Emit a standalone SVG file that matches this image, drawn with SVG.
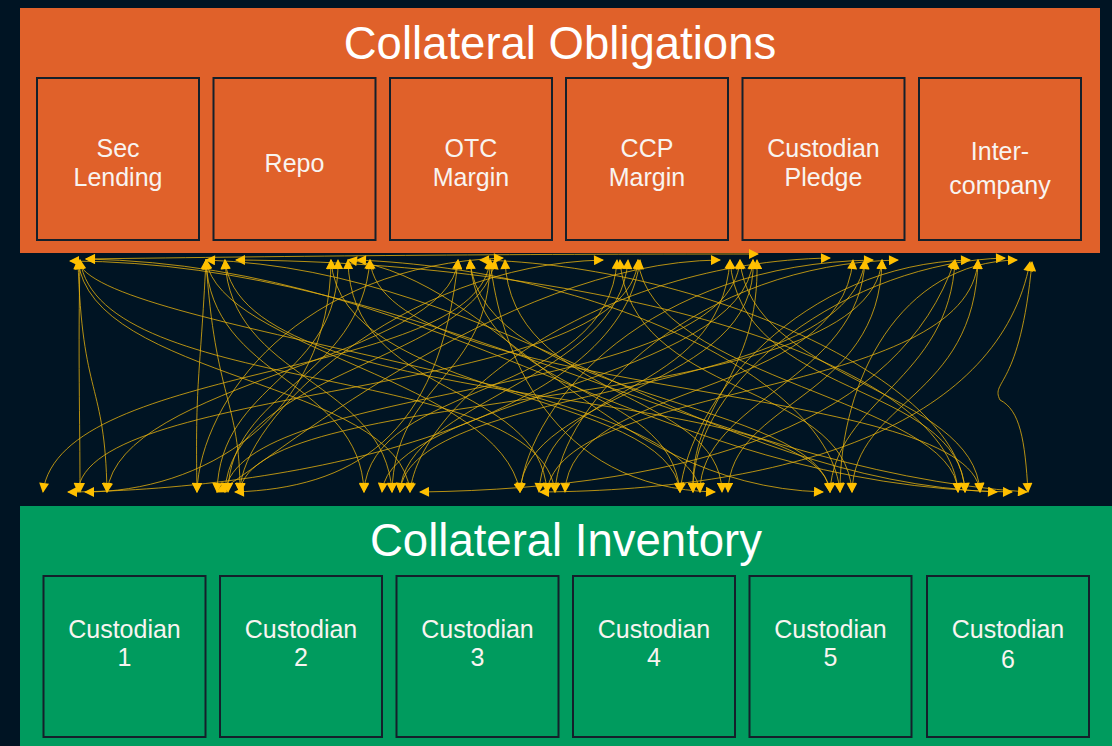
<svg xmlns="http://www.w3.org/2000/svg" width="1112" height="746" viewBox="0 0 1112 746">
<style>
.bg{fill:#001423}
.panelO{fill:#E0612A}
.panelG{fill:#009B5E}
.box{stroke:#14202B;stroke-width:2}
.boxO{fill:#E0612A}
.boxG{fill:#009B5E}
.title{font-family:"Liberation Sans",Arial,sans-serif;fill:#FFFFFF;text-anchor:middle}
.lbl{font-family:"Liberation Sans",Arial,sans-serif;font-size:25px;fill:#F8F4F0;text-anchor:middle}
.c{fill:none;stroke:#E8B30F;stroke-opacity:0.78;stroke-width:1;marker-start:url(#ah);marker-end:url(#ah)}
</style>
<defs>
<marker id="ah" viewBox="0 0 10 10" refX="9" refY="5" markerWidth="11" markerHeight="10" markerUnits="userSpaceOnUse" orient="auto-start-reverse">
<path d="M0,0 L10,5 L0,10 z" fill="#FFC000"/>
</marker>
</defs>
<rect class="bg" x="0" y="0" width="1112" height="746"/>
<g id="obligations">
<rect class="panelO" x="20" y="8" width="1080" height="245"/>
<text class="title" x="560" y="59" font-size="45.5">Collateral Obligations</text>
</g>
<g id="sec-lending"><rect class="box boxO" x="37" y="78" width="162" height="162"/><text class="lbl" x="118" y="157">Sec</text><text class="lbl" x="118" y="186">Lending</text></g>
<g id="repo"><rect class="box boxO" x="213.5" y="78" width="162" height="162"/><text class="lbl" x="294.5" y="172">Repo</text></g>
<g id="otc-margin"><rect class="box boxO" x="390" y="78" width="162" height="162"/><text class="lbl" x="471" y="157">OTC</text><text class="lbl" x="471" y="186">Margin</text></g>
<g id="ccp-margin"><rect class="box boxO" x="566" y="78" width="162" height="162"/><text class="lbl" x="647" y="157">CCP</text><text class="lbl" x="647" y="186">Margin</text></g>
<g id="custodian-pledge"><rect class="box boxO" x="742.5" y="78" width="162" height="162"/><text class="lbl" x="823.5" y="157">Custodian</text><text class="lbl" x="823.5" y="186">Pledge</text></g>
<g id="inter-company"><rect class="box boxO" x="919" y="78" width="162" height="162"/><text class="lbl" x="1000" y="160">Inter-</text><text class="lbl" x="1000" y="194">company</text></g>

<g id="inventory">
<rect class="panelG" x="20" y="506" width="1092" height="240"/>
<text class="title" x="566" y="556" font-size="45.5">Collateral Inventory</text>
</g>
<g id="custodian-1"><rect class="box boxG" x="43.5" y="576" width="162" height="161"/><text class="lbl" x="124.5" y="638">Custodian</text><text class="lbl" x="124.5" y="666">1</text></g>
<g id="custodian-2"><rect class="box boxG" x="220" y="576" width="162" height="161"/><text class="lbl" x="301" y="638">Custodian</text><text class="lbl" x="301" y="666">2</text></g>
<g id="custodian-3"><rect class="box boxG" x="396.5" y="576" width="162" height="161"/><text class="lbl" x="477.5" y="638">Custodian</text><text class="lbl" x="477.5" y="666">3</text></g>
<g id="custodian-4"><rect class="box boxG" x="573" y="576" width="162" height="161"/><text class="lbl" x="654" y="638">Custodian</text><text class="lbl" x="654" y="666">4</text></g>
<g id="custodian-5"><rect class="box boxG" x="749.5" y="576" width="162" height="161"/><text class="lbl" x="830.5" y="638">Custodian</text><text class="lbl" x="830.5" y="666">5</text></g>
<g id="custodian-6"><rect class="box boxG" x="927" y="576" width="162" height="161"/><text class="lbl" x="1008" y="638">Custodian</text><text class="lbl" x="1008" y="668">6</text></g>

<g id="connectors">
<path class="c" d="M 490 260 C 480 380, 60 360, 43 492"/>
<path class="c" d="M 78 260 C 82 400, 105 380, 107 492"/>
<path class="c" d="M 80 260 C 78 350, 80 420, 80 492"/>
<path class="c" d="M 70 261 C 420 262, 700 470, 1027 492"/>
<path class="c" d="M 86 259 C 450 266, 650 488, 1012 492"/>
<path class="c" d="M 78 260 C 90 380, 400 380, 410 492"/>
<path class="c" d="M 80 260 C 100 400, 540 360, 555 492"/>
<path class="c" d="M 640 260 C 620 420, 300 490, 68 492"/>
<path class="c" d="M 206 260 C 200 380, 195 380, 197 492"/>
<path class="c" d="M 206 260 C 215 400, 240 400, 240 492"/>
<path class="c" d="M 206 260 C 220 350, 500 380, 520 492"/>
<path class="c" d="M 225 260 C 240 420, 820 380, 830 492"/>
<path class="c" d="M 236 260 C 600 262, 950 360, 958 492"/>
<path class="c" d="M 331 260 C 330 420, 200 492, 85 492"/>
<path class="c" d="M 338 260 C 340 380, 220 380, 217 492"/>
<path class="c" d="M 348 260 C 350 400, 540 380, 547 492"/>
<path class="c" d="M 357 260 C 600 270, 830 380, 840 492"/>
<path class="c" d="M 370 260 C 360 380, 230 390, 228 492"/>
<path class="c" d="M 458 260 C 440 440, 350 488, 235 492"/>
<path class="c" d="M 470 260 C 480 400, 670 380, 680 492"/>
<path class="c" d="M 480 260 C 700 265, 960 380, 965 492"/>
<path class="c" d="M 490 260 C 490 380, 395 380, 392 492"/>
<path class="c" d="M 495 260 C 480 360, 230 370, 225 492"/>
<path class="c" d="M 505 260 C 510 400, 720 390, 722 492"/>
<path class="c" d="M 503 258 C 300 265, 200 400, 197 492"/>
<path class="c" d="M 603 260 C 400 265, 240 420, 240 492"/>
<path class="c" d="M 617 260 C 610 400, 370 380, 364 492"/>
<path class="c" d="M 620 260 C 630 400, 845 380, 852 492"/>
<path class="c" d="M 628 260 C 620 380, 405 400, 400 492"/>
<path class="c" d="M 638 260 C 650 380, 955 400, 958 492"/>
<path class="c" d="M 720 260 C 500 262, 260 470, 217 492"/>
<path class="c" d="M 730 260 C 720 400, 545 380, 539 492"/>
<path class="c" d="M 740 260 C 750 380, 975 390, 980 492"/>
<path class="c" d="M 753 260 C 745 380, 390 400, 382 492"/>
<path class="c" d="M 757 260 C 760 380, 690 400, 693 492"/>
<path class="c" d="M 86 259 C 300 256, 500 254, 758 254"/>
<path class="c" d="M 830 258 C 600 262, 420 400, 410 492"/>
<path class="c" d="M 853 260 C 840 400, 570 380, 565 492"/>
<path class="c" d="M 865 260 C 860 380, 700 400, 700 492"/>
<path class="c" d="M 873 260 C 650 264, 530 400, 520 492"/>
<path class="c" d="M 882 260 C 880 400, 730 400, 728 492"/>
<path class="c" d="M 898 260 C 700 264, 560 400, 555 492"/>
<path class="c" d="M 955 260 C 950 380, 835 400, 830 492"/>
<path class="c" d="M 970 260 C 800 264, 690 400, 680 492"/>
<path class="c" d="M 978 260 C 975 400, 855 400, 852 492"/>
<path class="c" d="M 1005 258 C 850 262, 690 380, 693 492"/>
<path class="c" d="M 1017 260 C 900 262, 840 380, 840 492"/>
<path class="c" d="M 1032 262 C 1020 390, 990 380, 1000 400 C 1020 410, 1025 440, 1028 492"/>
<path class="c" d="M 206 260 C 500 270, 700 480, 997 492"/>
<path class="c" d="M 348 260 C 500 280, 600 485, 823 492"/>
<path class="c" d="M 490 260 C 500 350, 550 488, 715 492"/>
<path class="c" d="M 955 260 C 900 420, 700 488, 420 492"/>
<path class="c" d="M 1030 262 C 1000 420, 800 490, 540 492"/>
<path class="c" d="M 225 260 C 230 380, 385 380, 392 492"/>
<path class="c" d="M 331 260 C 340 400, 670 390, 680 492"/>
<path class="c" d="M 458 260 C 450 360, 120 380, 107 492"/>
<path class="c" d="M 470 260 C 480 400, 820 400, 830 492"/>
<path class="c" d="M 740 260 C 730 400, 240 380, 225 492"/>
<path class="c" d="M 865 260 C 850 400, 410 380, 400 492"/>
<path class="c" d="M 730 260 C 740 400, 960 380, 965 492"/>
<path class="c" d="M 978 260 C 970 400, 560 380, 547 492"/>
<path class="c" d="M 370 260 C 380 400, 970 380, 980 492"/>
<path class="c" d="M 78 260 C 90 330, 690 380, 700 492"/>
<path class="c" d="M 206 260 C 210 380, 360 380, 364 492"/>
<path class="c" d="M 882 260 C 870 420, 250 380, 240 492"/>
<path class="c" d="M 638 260 C 630 400, 85 380, 78 492"/>
<path class="c" d="M 753 260 C 760 390, 525 390, 520 492"/>
</g>
</svg>
